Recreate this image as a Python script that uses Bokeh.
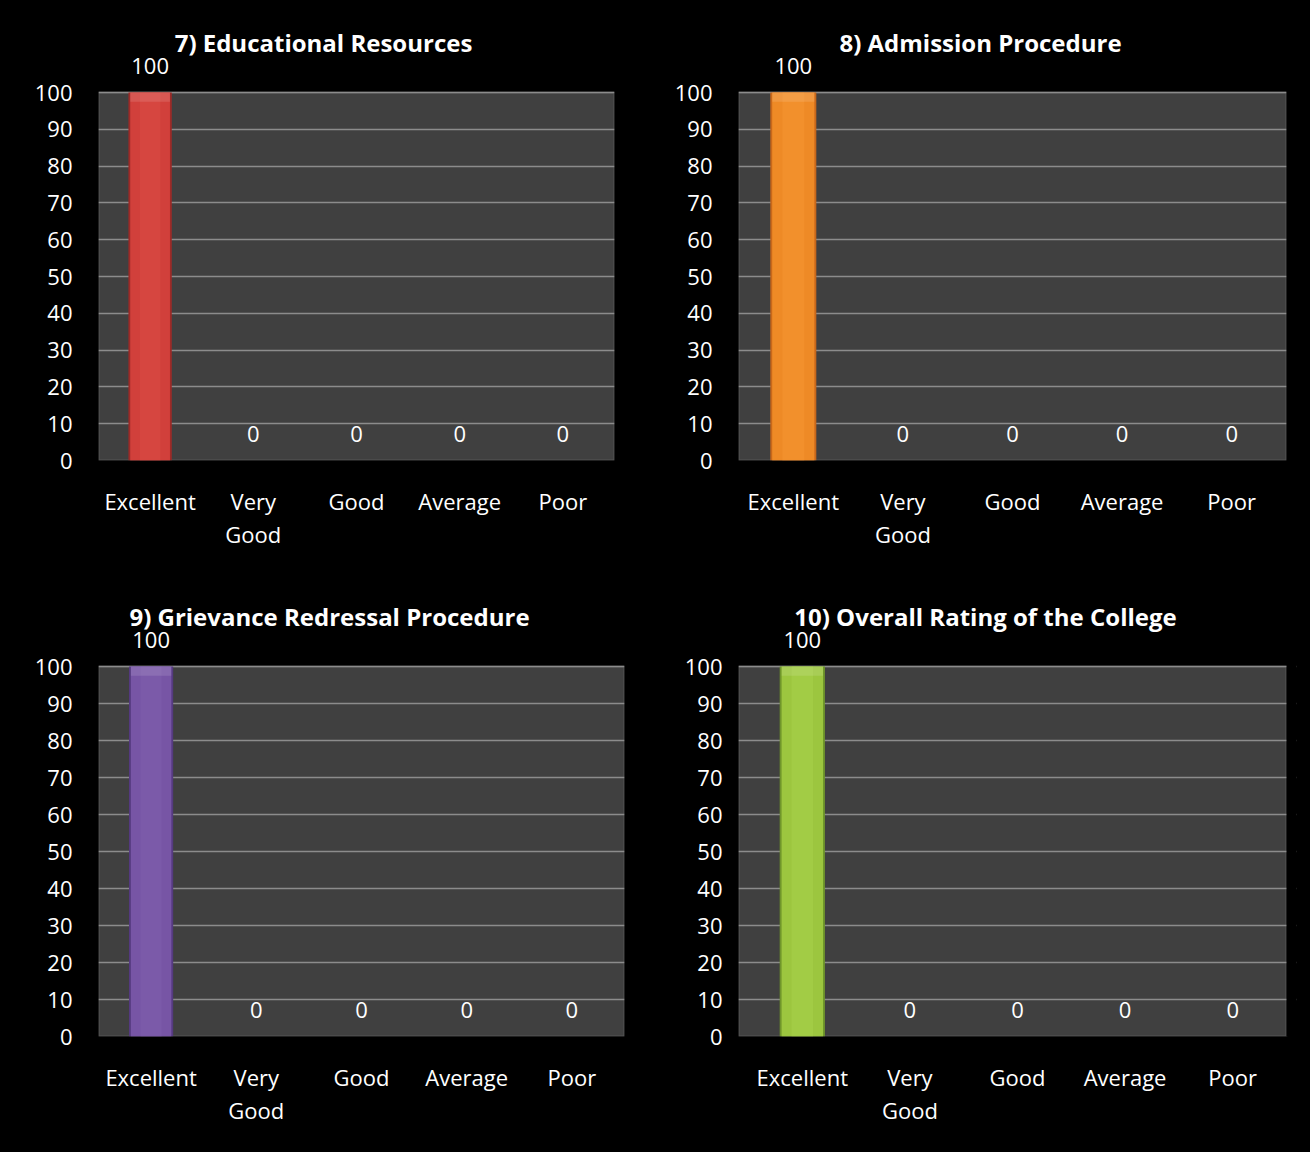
from bokeh.plotting import figure
from bokeh.models import ColumnDataSource, Label, FixedTicker, BoxAnnotation, FactorRange
from bokeh.layouts import column, row
from bokeh.embed import file_html
from bokeh.resources import INLINE

# ---- data ----
categories = ["Excellent", "Very\nGood", "Good", "Average", "Poor"]
titles = ["7) Educational Resources", "8) Admission Procedure",
          "9) Grievance Redressal Procedure", "10) Overall Rating of the College"]
edu_resources = [100, 0, 0, 0, 0]
admission = [100, 0, 0, 0, 0]
grievance = [100, 0, 0, 0, 0]
overall = [100, 0, 0, 0, 0]
y_ticks = [0, 10, 20, 30, 40, 50, 60, 70, 80, 90, 100]
y_max = 100

series = [edu_resources, admission, grievance, overall]
# (edge colour, body colour, highlight colour)
palettes = [("#9c2a27", "#d1403b", "#dc4b46"),
            ("#c9681a", "#ee8a26", "#f69631"),
            ("#553a80", "#7755a5", "#8060ae"),
            ("#6f962a", "#9cc63f", "#a8d14b")]
# (left, plot_w, right, space_above, plot_h, bottom, left_pad_px)
geoms = [(98, 516, 40, 92, 368, 120, 0),
         (84, 548, 24, 92, 368, 120, 0),
         (98, 526, 30, 86, 370, 116, 0),
         (84, 548, 24, 86, 370, 116, 10)]
title_shift = [-33, -32, -32, -27]

FONT = "Open Sans"


def make_panel(title, vals, pal, geom, tshift):
    l, fw, r, t, fh, b, pad = geom
    n = len(categories)
    step = (fw - pad) / n                 # pixels per category
    pad_u = pad / step                    # padding in category units (per side)
    y_top = y_max * (t + fh) / fh
    xr = FactorRange(factors=categories, range_padding=pad_u,
                     range_padding_units="absolute")
    p = figure(x_range=xr, y_range=(0, y_top), frame_width=fw + pad, frame_height=t + fh,
               min_border_left=l, min_border_right=r - pad, min_border_top=0,
               min_border_bottom=b, output_backend="svg", toolbar_location=None)
    p.background_fill_color = "black"
    p.border_fill_color = "black"
    p.outline_line_color = None

    area = BoxAnnotation(left=-pad_u if pad else None, right=n if pad else None,
                         bottom=0, top=y_max, fill_color="#404040", fill_alpha=1,
                         line_color="#8c8c8c", line_width=2, level="image")
    p.add_layout(area)
    if pad:
        cover = BoxAnnotation(left=n, fill_color="black", fill_alpha=1,
                              line_color=None, level="glyph")
        p.add_layout(cover)

    p.xgrid.grid_line_color = None
    p.ygrid.grid_line_color = "#8c8c8c"
    p.ygrid.grid_line_width = 1.5
    p.ygrid.ticker = FixedTicker(ticks=y_ticks)

    src = ColumnDataSource(dict(cat=categories, val=vals, bev=[v * 0.975 for v in vals]))
    p.vbar(x="cat", top="val", bottom=0, width=0.42, source=src,
           fill_color=pal[0], line_color=None)
    p.vbar(x="cat", top="val", bottom=0, width=0.385, source=src,
           fill_color=pal[1], line_color=None)
    p.vbar(x="cat", top="val", bottom=0, width=0.2, source=src,
           fill_color=pal[2], line_color=None, fill_alpha=0.5)
    p.vbar(x="cat", top="val", bottom="bev", width=0.385, source=src,
           fill_color="white", fill_alpha=0.12, line_color=None)

    # value labels (category i sits at synthetic coordinate i + 0.5)
    for i, v in enumerate(vals):
        p.add_layout(Label(x=i + 0.5, y=v, y_offset=27, text=str(v),
                           text_align="center", text_baseline="middle",
                           text_color="white", text_font_size="22px", text_font=FONT))

    p.add_layout(Label(x=n / 2 - pad_u / 2, y=y_max, x_offset=tshift, y_offset=50,
                       text=title, text_align="center", text_baseline="middle",
                       text_color="white", text_font_size="24px",
                       text_font_style="bold", text_font=FONT))

    p.yaxis.ticker = FixedTicker(ticks=y_ticks)
    for ax in (p.xaxis, p.yaxis):
        ax.axis_line_color = None
        ax.major_tick_line_color = None
        ax.minor_tick_line_color = None
        ax.major_label_text_color = "white"
        ax.major_label_text_font_size = "22px"
        ax.major_label_text_font = FONT
    p.yaxis.major_label_standoff = 20 - pad
    p.xaxis.major_label_standoff = 19
    p.xaxis.major_label_text_line_height = 1.1
    p.xaxis.major_label_orientation = "horizontal"
    return p


figs = [make_panel(titles[i], series[i], palettes[i], geoms[i], title_shift[i]) for i in range(4)]
layout = column(row(figs[0], figs[1], spacing=0), row(figs[2], figs[3], spacing=0), spacing=0)
layout.styles = {"background-color": "black"}

open("out.html", "w").write(file_html(layout, INLINE))
